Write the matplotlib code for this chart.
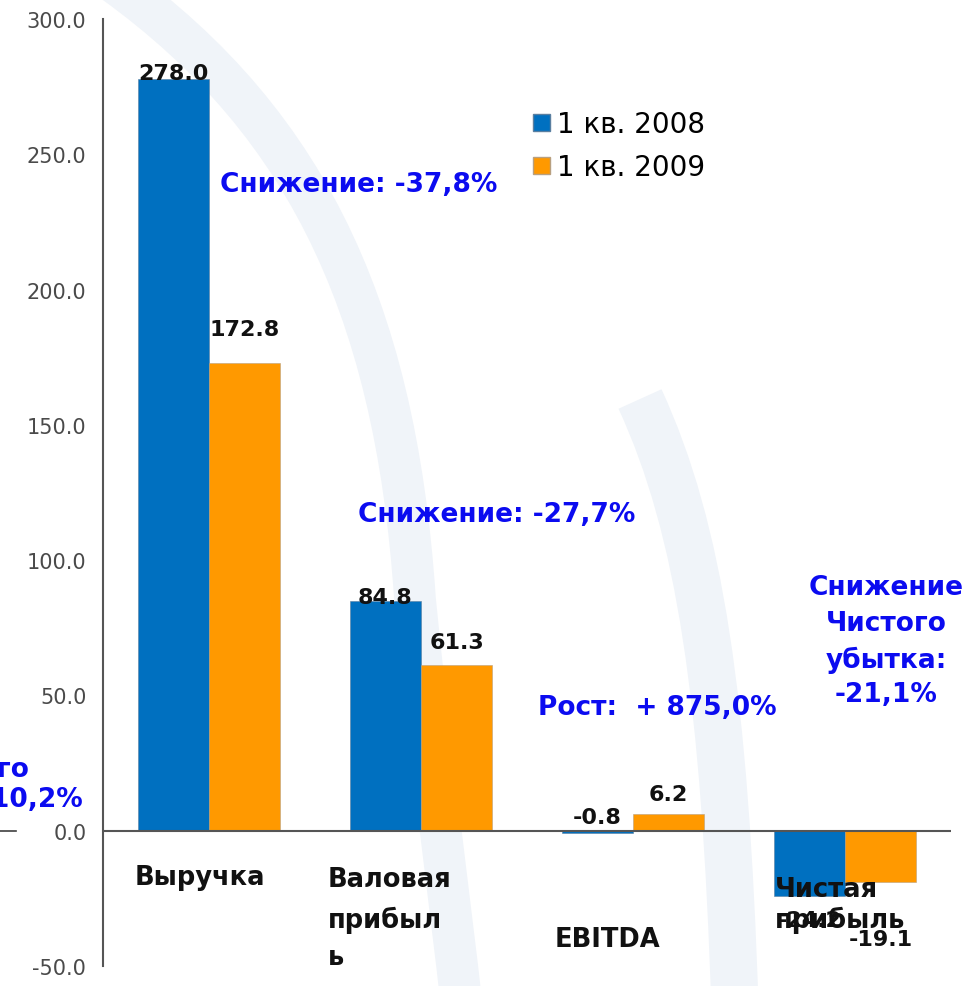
import numpy as np
import matplotlib
matplotlib.use('Agg')
import matplotlib.pyplot as plt
from matplotlib.patches import Patch, PathPatch
from matplotlib.path import Path

# Данные (млн)
categories = ['Выручка', 'Валовая\nприбыл\nь', 'EBITDA', 'Чистая\nприбыль']
series_names = ['1 кв. 2008', '1 кв. 2009']
q1_2008 = [278.0, 84.8, -0.8, -24.2]
q1_2009 = [172.8, 61.3, 6.2, -19.1]
yticks = [-50, 0, 50, 100, 150, 200, 250, 300]

# смещения подписей значений (пиксели)
dy08 = [6, 4, 16, -24]
dy09 = [34, 23, 20, -57]

blue = '#0070C0'
orange = '#FF9900'
txtblue = '#0b0bf0'

W, H = 971, 987
fig = plt.figure(figsize=(W / 100, H / 100), dpi=100)

# фон - светлые дуги логотипа
bg = fig.add_axes([0, 0, 1, 1], zorder=0)
bg.set_xlim(0, W)
bg.set_ylim(H, 0)
bg.axis('off')
wm = '#f0f4f9'
p1 = Path([(95, -30), (300, 110), (395, 300), (415, 600), (435, 800), (450, 900), (462, 1010)],
          [Path.MOVETO, Path.CURVE4, Path.CURVE4, Path.CURVE4, Path.CURVE4, Path.CURVE4, Path.CURVE4])
bg.add_patch(PathPatch(p1, fill=False, color=wm, lw=30))
p2 = Path([(640, 400), (700, 530), (725, 700), (735, 1010)],
          [Path.MOVETO, Path.CURVE4, Path.CURVE4, Path.CURVE4])
bg.add_patch(PathPatch(p2, fill=False, color=wm, lw=34))

ax = fig.add_axes([103 / W, 1 - 967 / H, (951 - 103) / W, (967 - 20) / H], zorder=1)
ax.patch.set_alpha(0)

x = np.arange(len(categories))
w = 0.335
ax.bar(x - w / 2, q1_2008, w, color=blue, edgecolor='#5a7fa0', linewidth=0.4, zorder=2)
ax.bar(x + w / 2, q1_2009, w, color=orange, edgecolor='#b8a080', linewidth=0.4, zorder=2)
ax.axhline(0, color='#555555', lw=1.5, zorder=3)

for i in range(len(categories)):
    ax.annotate(f'{q1_2008[i]:.1f}', (x[i] - w / 2, q1_2008[i]), xytext=(0, dy08[i]),
                textcoords='offset pixels', ha='center', va='center',
                fontsize=16, fontweight='bold', color='#111111', zorder=4)
    ax.annotate(f'{q1_2009[i]:.1f}', (x[i] + w / 2, q1_2009[i]), xytext=(0, dy09[i]),
                textcoords='offset pixels', ha='center', va='center',
                fontsize=16, fontweight='bold', color='#111111', zorder=4)

ax.set_xlim(-0.5, 3.5)
ax.set_ylim(-50, 300)
ax.set_yticks(yticks)
ax.set_yticklabels([f'{t:.1f}' for t in yticks], fontsize=15, color='#4a4a4a')
ax.tick_params(axis='y', length=0, pad=12)
ax.set_xticks([])
for s in ['top', 'right', 'bottom']:
    ax.spines[s].set_visible(False)
ax.spines['left'].set_color('#555555')
ax.spines['left'].set_linewidth(1.5)

# слой текста поверх столбцов
fg = fig.add_axes([0, 0, 1, 1], zorder=5)
fg.set_xlim(0, W)
fg.set_ylim(H, 0)
fg.axis('off')
fg.patch.set_alpha(0)

# подписи категорий
cat_pos = [(135, [878]), (328, [880, 920, 958]), (555, [940]), (775, [890, 920])]
for name, (px, ys) in zip(categories, cat_pos):
    for line, py in zip(name.split('\n'), ys):
        fg.text(px, py, line, ha='left', va='center', fontsize=18.5,
                fontweight='bold', color='#111111')

# легенда
handles = [Patch(facecolor=blue, edgecolor='#5a7fa0'), Patch(facecolor=orange, edgecolor='#b8a080')]
leg = fig.legend(handles, series_names, loc='upper left', bbox_to_anchor=(522 / W, 1 - 100 / H),
                 frameon=False, fontsize=20, handlelength=0.6, handleheight=0.6,
                 handletextpad=0.25, labelspacing=0.55, borderaxespad=0)

# комментарии
fs = 19
fg.text(220, 185, 'Снижение: -37,8%', ha='left', va='center', fontsize=fs,
        fontweight='bold', color=txtblue)
fg.text(358, 515, 'Снижение: -27,7%', ha='left', va='center', fontsize=fs,
        fontweight='bold', color=txtblue)
fg.text(538, 708, 'Рост:  + 875,0%', ha='left', va='center', fontsize=fs,
        fontweight='bold', color=txtblue)
for line, py in zip(['Снижение', 'Чистого', 'убытка:', '-21,1%'], [588, 624, 660, 695]):
    fg.text(886, py, line, ha='center', va='center', fontsize=fs,
            fontweight='bold', color=txtblue)
fg.text(30, 770, 'Чистого', ha='right', va='center', fontsize=fs,
        fontweight='bold', color=txtblue)
fg.text(83, 800, '-10,2%', ha='right', va='center', fontsize=fs,
        fontweight='bold', color=txtblue)
fg.plot([0, 16], [832, 832], color='#404040', lw=1.2)

fig.savefig('out.png', dpi=100)
